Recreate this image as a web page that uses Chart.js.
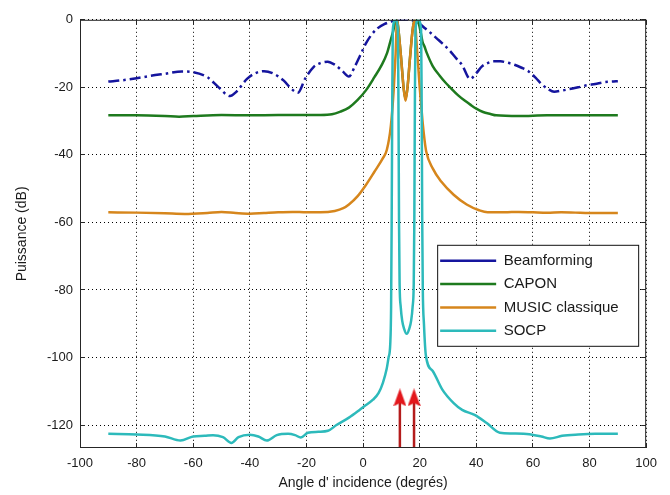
<!DOCTYPE html>
<html>
<head>
<meta charset="utf-8">
<script src="https://cdn.jsdelivr.net/npm/chart.js@4/dist/chart.umd.min.js"></script>
<style>
html,body{margin:0;padding:0;background:#fff;}
canvas{display:block;}
</style>
</head>
<body>
<canvas id="c" width="670" height="495"></canvas>
<script>
// ---------- data ----------
const xTicks = [-100, -80, -60, -40, -20, 0, 20, 40, 60, 80, 100];
const yTicks = [-120, -100, -80, -60, -40, -20, 0];
const xMin = -100, xMax = 100, yMin = -126.8, yMax = 0;

const seriesNames = ['Beamforming', 'CAPON', 'MUSIC classique', 'SOCP'];

const beamAngles = [-90,-85,-80,-75,-70,-64,-60,-55,-51,-47,-45,-41,-38,-35,-32,-28,-25.5,-23,-20.5,-17.5,-15,-12.5,-10,-7.5,-5,-3,-1,1,3,5,7.5,10,12,14,16,18,20,22,24,26,28,30.5,33,35,37.8,40,42,44,46,48.5,51,53.5,56,58.5,61,63,65.5,67.5,70,73,76,79,82,85,88,90];
const beamPower  = [-18.3,-17.9,-17.3,-16.6,-16.0,-15.3,-15.5,-17.0,-20.0,-22.6,-21.5,-17.5,-15.8,-15.2,-15.8,-18.0,-20.3,-21.6,-17.5,-14.0,-12.8,-12.4,-13.3,-15.0,-16.8,-14.0,-10.5,-7.0,-4.4,-2.6,-1.3,-0.5,0,0,0,-0.3,-1.2,-2.6,-4.0,-5.5,-7.0,-9.0,-11.5,-13.4,-17.5,-15.8,-13.8,-12.8,-12.3,-12.3,-12.7,-13.3,-14.2,-15.3,-17.2,-19.0,-20.6,-21.3,-21.0,-20.5,-20.0,-19.4,-19.0,-18.5,-18.3,-18.2];

const caponAngles = [-90,-80,-70,-65,-60,-50,-40,-30,-20,-15,-11,-8,-5,-2,1,4,6.5,8.5,9.6,10.6,11.3,12,12.5,13.5,14.3,15,15.7,16.5,17.5,18.2,19,19.5,20.3,21,21.7,22.5,24.6,27,29,31,33.5,36,38,40,42.4,45,47,55,65,75,90];
const caponPower  = [-28.3,-28.3,-28.5,-28.7,-28.5,-28.2,-28.3,-28.2,-28.2,-28.2,-28.0,-27.2,-26.0,-23.8,-20.9,-17.0,-13.5,-9.8,-6.5,-3.5,-1.0,0,-3,-12,-20,-23.5,-20,-12,-3,0,0,-0.5,-3.5,-6.5,-7.9,-9.8,-13.7,-16.5,-18.5,-20.2,-22.3,-24.0,-25.2,-26.3,-27.3,-27.9,-28.3,-28.5,-28.3,-28.3,-28.3];

const musicAngles = [-90,-80,-70,-63,-55,-50,-45,-40,-35,-30,-25,-20,-15,-10,-7,-5,-2,1,4,6.9,8.4,9.8,10.8,11.5,12,12.5,13.5,14.3,15,15.7,16.5,17.5,18.2,19,20,21,21.7,22.3,24.6,27.6,32,36.6,41,44,50,55,60,65,70,75,80,85,90];
const musicPower  = [-57.0,-57.1,-57.3,-57.5,-57.2,-56.9,-57.2,-57.4,-57.2,-57.0,-56.9,-57.0,-57.0,-56.6,-55.8,-54.7,-52.3,-48.9,-45.0,-41.1,-38.5,-31.5,-21,-10,0,-3,-12,-20,-24,-20,-12,-3,0,-8,-20,-30,-35.5,-39,-44,-47.9,-51.8,-54.7,-56.4,-57.0,-57.0,-56.9,-57.0,-57.1,-57.0,-57.1,-57.2,-57.2,-57.2];

const socpAngles = [-90,-80,-70,-64.5,-60,-56,-53,-49.5,-46.5,-44,-40,-37,-34,-30.5,-26.5,-24,-22,-19.5,-15.8,-12.4,-9.4,-5,-2,0.3,3.5,5.5,7,8.3,9.0,9.6,9.9,10.1,10.3,10.5,11.4,12.3,12.5,12.7,12.9,13.3,13.8,14.5,15.4,16.3,17.0,17.5,17.9,18.1,18.3,18.5,19.5,20.5,20.7,20.9,21.1,21.5,22.2,24.6,28,32,35,39.4,43.8,48.3,52.7,58.7,63,66,70.3,76,82,90];
const socpPower  = [-122.6,-122.8,-123.4,-124.6,-123.4,-123.2,-123.0,-123.6,-125.3,-123.6,-122.9,-123.4,-124.6,-123.0,-122.6,-123.0,-123.7,-122.3,-122.0,-121.7,-120.0,-117.8,-116.0,-114.5,-112.5,-110.5,-107.5,-103.5,-100,-96,-85,-60,-25,-3,0,-3,-25,-60,-78,-85,-89,-91.5,-93,-91.5,-89,-85,-78,-60,-25,-3,0,-3,-25,-60,-80,-90,-99.5,-104,-109.5,-113.5,-115.5,-117,-119.5,-122.3,-122.5,-122.7,-123.4,-124.0,-123.2,-122.8,-122.6,-122.6];

// true source directions (red arrows)
const arrowAngles = [13, 18];
const arrowShaftTop = -113;
const arrowHeadLevel = -111.8;

// ---------- helpers ----------
const zip = (xs, ys) => xs.map((x, i) => ({x: x, y: ys[i]}));
const FONT = "'Liberation Sans', Arial, Helvetica, sans-serif";
const TXT = '#1a1a1a';

function makeHead(w, h, color) {
  const c = document.createElement('canvas');
  c.width = w; c.height = h;
  const g = c.getContext('2d');
  g.fillStyle = color;
  g.beginPath();
  g.moveTo(w / 2, 0);
  g.lineTo(w, h);
  g.lineTo(w / 2, h * 0.82);
  g.lineTo(0, h);
  g.closePath();
  g.fill();
  return c;
}
const headImg = makeHead(13, 18, '#E3171C');

const lineDefaults = {
  pointRadius: 0, pointHoverRadius: 0, fill: false, borderWidth: 2.5,
  cubicInterpolationMode: 'monotone', clip: 0
};

const datasets = [
  Object.assign({}, lineDefaults, {label: seriesNames[0], data: zip(beamAngles, beamPower),
    borderColor: '#15159E', backgroundColor: '#15159E', borderDash: [11, 4, 2.5, 4], order: 5}),
  Object.assign({}, lineDefaults, {label: seriesNames[1], data: zip(caponAngles, caponPower),
    borderColor: '#1E7A1E', backgroundColor: '#1E7A1E', order: 4}),
  Object.assign({}, lineDefaults, {label: seriesNames[2], data: zip(musicAngles, musicPower),
    borderColor: '#D6861C', backgroundColor: '#D6861C', order: 3}),
  Object.assign({}, lineDefaults, {label: seriesNames[3], data: zip(socpAngles, socpPower),
    borderColor: '#2DBABB', backgroundColor: '#2DBABB', order: 2})
];
arrowAngles.forEach((a, i) => {
  datasets.push({label: 'arrow' + i, data: [{x: a, y: yMin}, {x: a, y: arrowShaftTop}],
    borderColor: '#B41C1C', borderWidth: 2.5, pointRadius: 0, clip: 0, order: 1});
});
datasets.push({label: 'heads', data: arrowAngles.map(a => ({x: a, y: arrowHeadLevel})),
  showLine: false, pointStyle: headImg, pointRadius: 9, clip: false, order: 0});

// ---------- frame + legend box plugin ----------
function drawLegend(chart) {
  const ca = chart.chartArea, ctx = chart.ctx, lg = chart.legend;
  const bx = ca.right - 209, by = ca.top + 225, bw = 201, bh = 101;
  ctx.save();
  ctx.fillStyle = '#ffffff';
  ctx.fillRect(bx, by, bw, bh);
  ctx.strokeStyle = '#111';
  ctx.lineWidth = 1;
  ctx.strokeRect(bx + 0.5, by + 0.5, bw, bh);
  ctx.restore();
  lg.left = bx - 5.3; lg.top = by + 0.2;
  lg.right = bx + bw; lg.bottom = ca.bottom;
  lg.width = lg.right - lg.left; lg.height = lg.bottom - lg.top;
  lg.draw();
}
const framePlugin = {
  id: 'framePlugin',
  beforeUpdate(chart) {
    const lg = chart.legend;
    if (lg) lg._layers = () => [{z: 10, draw: () => drawLegend(chart)}];
  },
  afterDatasetsDraw(chart) {
    const ca = chart.chartArea, ctx = chart.ctx;
    ctx.save();
    ctx.strokeStyle = '#262626';
    ctx.lineWidth = 1;
    ctx.strokeRect(ca.left + 0.5, ca.top + 0.5, ca.right - ca.left - 1, ca.bottom - ca.top - 1);
    ctx.restore();
  }
};

const gridCommon = {
  color: '#000', lineWidth: 1,
  drawTicks: true, tickLength: -5, tickColor: '#262626', tickBorderDash: [], tickWidth: 1
};
const borderCommon = {display: false, dash: [1, 3]};

new Chart(document.getElementById('c'), {
  type: 'line',
  data: {datasets: datasets},
  plugins: [framePlugin],
  options: {
    responsive: false, animation: false, devicePixelRatio: 1,
    layout: {padding: {left: 0, right: 12, top: 16, bottom: 0}},
    plugins: {
      tooltip: {enabled: false},
      legend: {
        display: true, position: 'chartArea', align: 'start',
        labels: {
          usePointStyle: true, pointStyle: 'line', pointStyleWidth: 56,
          padding: 8.3, color: TXT, font: {family: FONT, size: 15},
          filter: item => item.datasetIndex < 4,
          sort: (a, b) => a.datasetIndex - b.datasetIndex
        }
      }
    },
    scales: {
      x: {
        type: 'linear', position: 'bottom', min: xMin, max: xMax,
        afterBuildTicks: s => { s.ticks = xTicks.map(v => ({value: v})); },
        afterFit: s => { s.height = 47; },
        grid: gridCommon,
        border: borderCommon,
        ticks: {color: TXT, font: {family: FONT, size: 13}, padding: 13, maxRotation: 0, autoSkip: false},
        title: {display: true, text: "Angle d' incidence (degrés)", color: TXT,
          font: {family: FONT, size: 14}, padding: {top: 0, bottom: 3.6}}
      },
      y: {
        type: 'linear', position: 'left', min: yMin, max: yMax,
        afterBuildTicks: s => { s.ticks = yTicks.map(v => ({value: v})); },
        afterFit: s => { s.width = 80; },
        grid: gridCommon,
        border: borderCommon,
        ticks: {color: TXT, font: {family: FONT, size: 13}, padding: 12, autoSkip: false},
        title: {display: true, text: 'Puissance (dB)', color: TXT,
          font: {family: FONT, size: 14}, padding: {top: 13.6, bottom: 0}}
      },
      x2: {
        type: 'linear', position: 'top', min: xMin, max: xMax,
        afterBuildTicks: s => { s.ticks = xTicks.map(v => ({value: v})); },
        afterFit: s => { s.height = 0; },
        grid: Object.assign({}, gridCommon, {drawOnChartArea: false}),
        border: {display: false},
        ticks: {display: false}
      },
      y2: {
        type: 'linear', position: 'right', min: yMin, max: yMax,
        afterBuildTicks: s => { s.ticks = yTicks.map(v => ({value: v})); },
        afterFit: s => { s.width = 0; },
        grid: Object.assign({}, gridCommon, {drawOnChartArea: false}),
        border: {display: false},
        ticks: {display: false}
      }
    }
  }
});
</script>
</body>
</html>
